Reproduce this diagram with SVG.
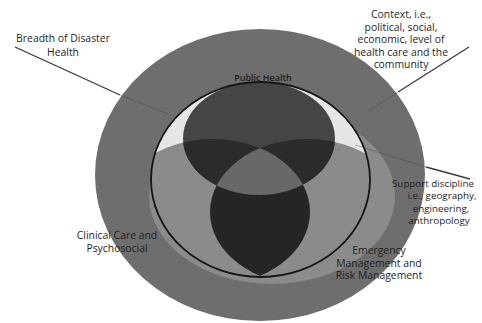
<svg xmlns="http://www.w3.org/2000/svg" width="482" height="323" viewBox="0 0 482 323">
<style>
.lbl{font-family:"Open Sans","Liberation Sans",sans-serif;font-size:10.4px;fill:#1f1f1f;text-anchor:middle}
.sup{font-size:9.8px}
.lead{stroke:#3a3a3a;stroke-width:1.3;fill:none}
.faint{stroke:#3a3a3a;stroke-width:1;fill:none;opacity:0.35}
</style>
<defs>
<clipPath id="cInner"><ellipse cx="260.5" cy="179.5" rx="109.5" ry="97.5"/></clipPath>
<clipPath id="cLeft"><ellipse cx="213" cy="212" rx="97" ry="73"/></clipPath>
<clipPath id="cTop"><ellipse cx="259" cy="138.5" rx="76" ry="56.5"/></clipPath>
</defs>
<rect width="482" height="323" fill="#ffffff"/>
<g id="context">
<ellipse cx="260" cy="175" rx="165" ry="146" fill="#6e6e6e"/>
</g>
<g id="support">
<ellipse cx="272" cy="196" rx="123" ry="88" fill="#8b8b8b"/>
</g>
<g id="breadth">
<ellipse cx="260.5" cy="179.5" rx="109.5" ry="97.5" fill="#e6e6e6"/>
</g>
<g id="venn" clip-path="url(#cInner)">
<g id="clinical"><ellipse cx="213" cy="212" rx="97" ry="73" fill="#8b8b8b"/></g>
<g id="emergency"><ellipse cx="307" cy="212" rx="97" ry="73" fill="#8b8b8b"/></g>
<g clip-path="url(#cLeft)"><ellipse cx="307" cy="212" rx="97" ry="73" fill="#252525"/></g>
<g id="public-health">
<ellipse cx="259" cy="138.5" rx="76" ry="56.5" fill="#454545"/>
<g clip-path="url(#cTop)">
<ellipse cx="213" cy="212" rx="97" ry="73" fill="#2b2b2b"/>
<ellipse cx="307" cy="212" rx="97" ry="73" fill="#2b2b2b"/>
<g clip-path="url(#cLeft)"><ellipse cx="307" cy="212" rx="97" ry="73" fill="#686868"/></g>
</g>
</g>
</g>
<ellipse cx="260.5" cy="179.5" rx="109.5" ry="97.5" fill="none" stroke="#151515" stroke-width="1.8"/>
<g id="connectors">
<line class="lead" x1="15" y1="47" x2="120" y2="95"/>
<line class="faint" x1="120" y1="95" x2="168" y2="114"/>
<line class="lead" x1="469" y1="47" x2="398" y2="92"/>
<line class="faint" x1="398" y1="92" x2="369" y2="111"/>
<line class="lead" x1="426" y1="167" x2="470" y2="179"/>
<line class="faint" x1="355" y1="145" x2="426" y2="167"/>
</g>
<g id="labels">
<text class="lbl" x="63" y="42">Breadth of Disaster</text>
<text class="lbl" x="63" y="56">Health</text>
<text class="lbl" x="401" y="18">Context, i.e.,</text>
<text class="lbl" x="401" y="30.5">political, social,</text>
<text class="lbl" x="401" y="43">economic, level of</text>
<text class="lbl" x="401" y="55.5">health care and the</text>
<text class="lbl" x="401" y="68">community</text>
<text class="lbl" x="263" y="81" style="font-size:9px;font-weight:600">Public Health</text>
<text class="lbl sup" x="392" y="187" style="text-anchor:start">Support discipline</text>
<text class="lbl sup" x="442" y="199.4">i.e., geography,</text>
<text class="lbl sup" x="441" y="211.8">engineering,</text>
<text class="lbl sup" x="439" y="224.2">anthropology</text>
<text class="lbl" x="117" y="239">Clinical Care and</text>
<text class="lbl" x="117" y="252">Psychosocial</text>
<text class="lbl" x="379" y="254">Emergency</text>
<text class="lbl" x="379" y="266.5">Management and</text>
<text class="lbl" x="379" y="279">Risk Management</text>
</g>
</svg>
